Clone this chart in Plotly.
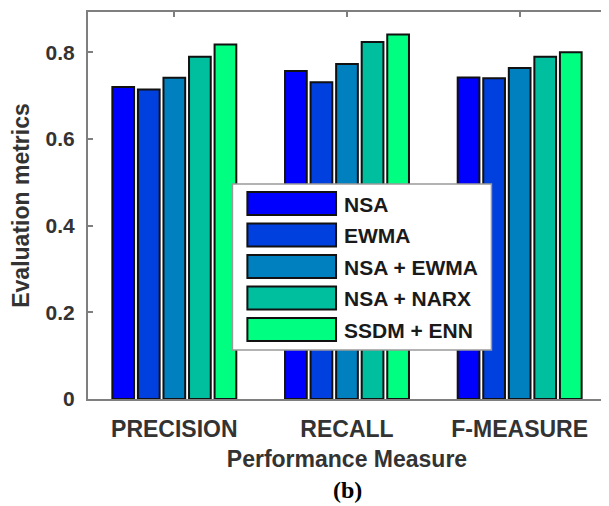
import plotly.graph_objects as go

categories = ["PRECISION", "RECALL", "F-MEASURE"]
series_names = ["NSA", "EWMA", "NSA + EWMA", "NSA + NARX", "SSDM + ENN"]
nsa = [0.720, 0.757, 0.742]
ewma = [0.714, 0.731, 0.740]
nsa_ewma = [0.741, 0.773, 0.764]
nsa_narx = [0.790, 0.824, 0.790]
ssdm_enn = [0.818, 0.841, 0.800]
series_values = [nsa, ewma, nsa_ewma, nsa_narx, ssdm_enn]
colors = ["#0000FF", "#0040DF", "#0080BF", "#00BF9F", "#00FF80"]
y_ticks = [0, 0.2, 0.4, 0.6, 0.8]
y_tick_labels = ["0", "0.2", "0.4", "0.6", "0.8"]

# page body has an 8px default margin, so the figure is drawn 8px in
OFF = 8
W, H = 609 - OFF, 506 - OFF
L, T = 88 - OFF, 12 - OFF
R = W - (608 - OFF)
B = H - (399 - OFF)
PW = W - L - R
PH = H - T - B


def px(x):
    return (x - OFF - L) / PW


def py(y):
    return (H - B - (y - OFF)) / PH


fig = go.Figure()
for name, vals, col in zip(series_names, series_values, colors):
    fig.add_trace(go.Bar(
        x=categories, y=vals, name=name,
        marker=dict(color=col, line=dict(color="#111111", width=2)),
        showlegend=False,
    ))

axis_col = "#7f7f7f"
font_col = "#333333"
FAM = "Liberation Sans, Arial"

# custom legend mimicking large swatches
shapes = [dict(type="rect", xref="paper", yref="paper",
               x0=px(233), x1=px(493), y0=py(350), y1=py(184),
               fillcolor="white", line=dict(color="#9a9a9a", width=1.5), layer="above")]
annotations = []
row_tops = [192, 223.5, 255, 286.5, 318]
for name, col, top in zip(series_names, colors, row_tops):
    shapes.append(dict(type="rect", xref="paper", yref="paper",
                       x0=px(248), x1=px(337), y0=py(top + 23), y1=py(top),
                       fillcolor=col, line=dict(color="#111111", width=2), layer="above"))
    annotations.append(dict(xref="paper", yref="paper", x=px(343), y=py(top + 12),
                            text=name, showarrow=False, xanchor="left", yanchor="middle",
                            font=dict(family=FAM, size=21, color="#1a1a1a", weight="bold")))

annotations.append(dict(xref="paper", yref="paper", x=px(348), y=py(490),
                        text="(b)", showarrow=False, xanchor="center", yanchor="middle",
                        font=dict(family="Liberation Serif, Times New Roman", size=24,
                                  color="#000000", weight="bold")))

fig.update_layout(
    width=W, height=H,
    margin=dict(l=L, r=R, t=T, b=B, pad=0),
    paper_bgcolor="white", plot_bgcolor="white",
    barmode="group", bargap=0.26, bargroupgap=0.15,
    font=dict(family=FAM, color=font_col),
    shapes=shapes, annotations=annotations,
    xaxis=dict(
        type="category", range=[-0.5, 2.5],
        showline=True, linecolor=axis_col, linewidth=2, mirror="ticks",
        ticks="inside", ticklen=5, tickcolor=axis_col, tickwidth=1.5,
        tickfont=dict(size=23, color=font_col, family=FAM, weight="bold"),
        ticklabelstandoff=8,
        showgrid=False, layer="below traces",
        title=dict(text="Performance Measure", font=dict(size=23, color=font_col, weight="bold"),
                   standoff=10),
    ),
    yaxis=dict(
        range=[0, 0.893],
        tickvals=y_ticks, ticktext=y_tick_labels,
        showline=True, linecolor=axis_col, linewidth=2, mirror="ticks",
        ticks="inside", ticklen=5, tickcolor=axis_col, tickwidth=1.5,
        tickfont=dict(size=21, color=font_col, weight="bold"),
        ticklabelstandoff=7,
        showgrid=False, zeroline=False,
        title=dict(text="Evaluation metrics", font=dict(size=23, color=font_col, weight="bold"),
                   standoff=10),
    ),
)

fig.write_html("out.html")
